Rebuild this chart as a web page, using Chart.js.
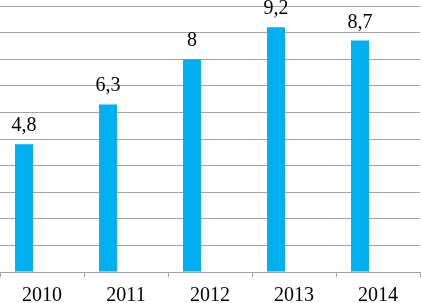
<!DOCTYPE html>
<html>
<head>
<meta charset="utf-8">
<script src="https://cdn.jsdelivr.net/npm/chart.js@4"></script>
<style>
  html, body { margin: 0; padding: 0; background: #fff; }
  #wrap { width: 421px; height: 303px; }
</style>
</head>
<body>
<div id="wrap"><canvas id="grafik"></canvas></div>
<script>
// data dari gambar
const tahun = ['2010', '2011', '2012', '2013', '2014'];
const nilai = [4.8, 6.3, 8, 9.2, 8.7];
// dua seri kosong (di Excel ada 3 seri, hanya satu yang terisi)
const seriKosong1 = [];
const seriKosong2 = [];

const warnaBatang = '#00b0f0';
const warnaGaris = '#a3a3a3';

// label nilai di atas batang, pakai koma desimal
const labelNilai = {
    id: 'labelNilai',
    afterDatasetsDraw(chart) {
        const ctx = chart.ctx;
        const meta = chart.getDatasetMeta(0);
        ctx.save();
        ctx.font = '20px "Liberation Serif", "Times New Roman", serif';
        ctx.fillStyle = '#000';
        ctx.textAlign = 'center';
        ctx.textBaseline = 'alphabetic';
        meta.data.forEach((bar, i) => {
            const teks = String(nilai[i]).replace('.', ',');
            ctx.fillText(teks, bar.x, bar.y - 13);
        });
        ctx.restore();
    }
};

new Chart(document.getElementById('grafik'), {
    type: 'bar',
    data: {
        labels: tahun,
        datasets: [
            { data: nilai, backgroundColor: warnaBatang },
            { data: seriKosong1, backgroundColor: warnaBatang },
            { data: seriKosong2, backgroundColor: warnaBatang }
        ]
    },
    options: {
        responsive: true, maintainAspectRatio: false,
        animation: false,
        layout: { padding: { top: 6, left: 0, right: 1, bottom: 0 } },
        datasets: { bar: { categoryPercentage: 54 / 84, barPercentage: 1 } },
        plugins: { legend: { display: false }, tooltip: { enabled: false } },
        scales: {
            x: {
                grid: { color: warnaGaris, drawOnChartArea: false, tickLength: 5, offset: true },
                border: { color: warnaGaris },
                ticks: {
                    color: '#000', padding: 7,
                    font: { family: '"Liberation Serif", "Times New Roman", serif', size: 20 }
                },
                afterFit: (s) => { s.height = 31; }
            },
            y: {
                min: 0, max: 10,
                ticks: { display: false, stepSize: 1 },
                grid: { color: warnaGaris, drawTicks: false },
                border: { display: false },
                afterFit: (s) => { s.width = 0; }
            }
        }
    },
    plugins: [labelNilai]
});
</script>
</body>
</html>
